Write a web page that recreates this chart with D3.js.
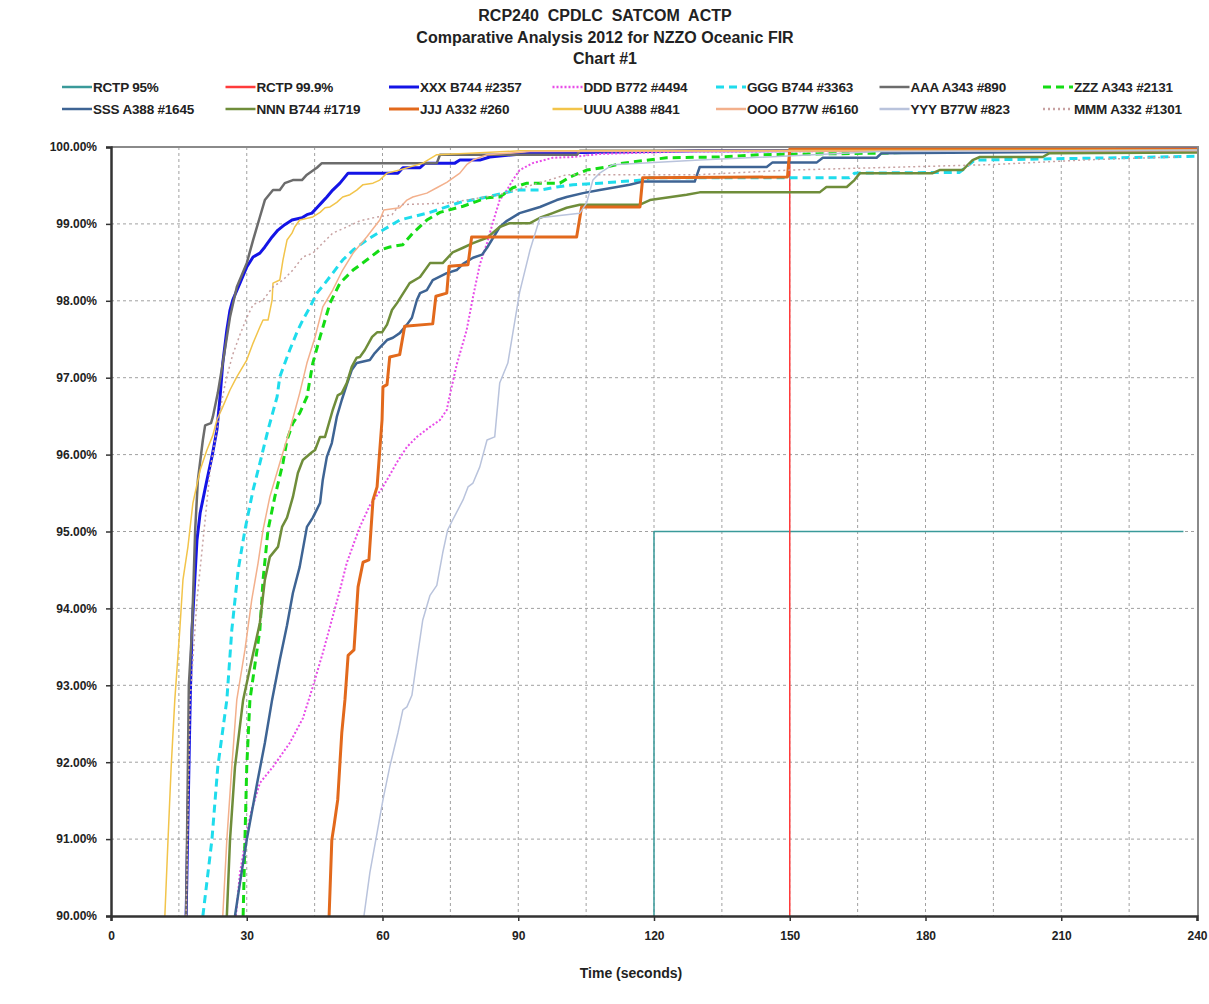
<!DOCTYPE html>
<html>
<head>
<meta charset="utf-8">
<script src="https://cdn.jsdelivr.net/npm/d3@7"></script>
<style>
  body { margin: 0; background: #fff; }
  svg text { font-family: "Liberation Sans", Arial, sans-serif; font-weight: bold; fill: #222; }
</style>
</head>
<body>
<div id="myPlot"></div>
<script>
// tick values
const xTicks = [0, 30, 60, 90, 120, 150, 180, 210, 240];
const yTicks = [90, 91, 92, 93, 94, 95, 96, 97, 98, 99, 100];

const titleLines = ["RCP240  CPDLC  SATCOM  ACTP", "Comparative Analysis 2012 for NZZO Oceanic FIR", "Chart #1"];

const seriesNames = ["RCTP 95%", "RCTP 99.9%", "XXX B744 #2357", "DDD B772 #4494", "GGG B744 #3363",
  "AAA A343 #890", "ZZZ A343 #2131", "SSS A388 #1645", "NNN B744 #1719", "JJJ A332 #260",
  "UUU A388 #841", "OOO B77W #6160", "YYY B77W #823", "MMM A332 #1301"];

// [time (s), cumulative %]
const rctp95 = [[120, 90], [120, 95], [237, 95]];
const rctp999 = [[150, 90], [150, 99.95]];

const xxx = [[16.6,90],[17.5,92.81],[17.9,93.72],[19.0,94.89],[19.7,95.24],[21.2,95.67],[22.3,95.97],[23.4,96.32],
  [24.1,96.75],[24.7,97.19],[25.6,97.62],[26.3,97.88],[26.9,98.01],[28.5,98.23],[30.0,98.44],[31.4,98.57],
  [32.9,98.62],[34.0,98.70],[35.6,98.83],[36.9,98.92],[38.4,98.99],[40.0,99.05],[42.2,99.08],[43.3,99.12],
  [44.4,99.14],[45.5,99.21],[46.6,99.28],[47.7,99.35],[49.0,99.44],[50.6,99.53],[52.4,99.66],[63.4,99.66],
  [64.5,99.73],[68.3,99.73],[69.4,99.79],[76.0,99.79],[77.1,99.83],[81.5,99.83],[83.7,99.87],[92.6,99.92],
  [130,99.95],[240,99.97]];

const ddd = [[27.6,90],[28.5,90.56],[30.0,91.08],[31.1,91.38],[32.9,91.73],[35.8,91.94],[39.5,92.25],[42.4,92.57],
  [44.6,92.98],[46.8,93.42],[48.8,93.85],[50.6,94.24],[52.1,94.59],[53.5,94.82],[55.0,95.06],[57.2,95.34],
  [60.1,95.58],[63.2,95.90],[65.4,96.10],[67.6,96.23],[70.5,96.36],[72.7,96.45],[74.2,96.58],[74.9,96.78],
  [76.4,97.17],[78.6,97.62],[80.0,98.05],[81.5,98.47],[83.1,98.75],[84.4,99.02],[85.9,99.31],[87.5,99.44],
  [88.8,99.57],[90.3,99.70],[93.2,99.79],[97.6,99.86],[102.1,99.87],[108.0,99.91],[125.7,99.94],[240,99.96]];

const ggg = [[20.3,90],[22.3,90.99],[23.6,91.94],[25.6,92.81],[26.7,93.72],[28.1,94.50],[29.6,95.02],[31.4,95.54],
  [32.9,95.89],[34.7,96.32],[36.7,96.75],[37.3,97.01],[39.5,97.36],[41.3,97.62],[42.4,97.75],[44.0,97.92],
  [45.5,98.10],[47.3,98.23],[49.0,98.36],[51.2,98.53],[53.5,98.66],[56.5,98.79],[60.1,98.92],[63.8,99.05],
  [70.5,99.15],[77.1,99.28],[83.1,99.35],[89.7,99.44],[94.8,99.44],[98.5,99.48],[102.1,99.51],[108.0,99.53],
  [117.5,99.57],[119.1,99.60],[163.2,99.60],[164.3,99.66],[187.5,99.67],[190.9,99.83],[222.2,99.86],[240,99.88]];

const aaa = [[16.6,90],[17.2,93],[17.9,93.72],[18.6,95.02],[19.2,95.67],[20.3,96.19],[20.8,96.38],[22.1,96.41],
  [22.5,96.49],[23.6,96.8],[24.7,97.19],[26.3,97.79],[27.8,98.18],[30.0,98.49],[31.4,98.79],[32.9,99.09],
  [34.0,99.31],[35.8,99.44],[37.3,99.44],[38.4,99.53],[40.2,99.57],[42.2,99.57],[43.3,99.64],[45.5,99.73],
  [46.6,99.79],[72.0,99.79],[72.7,99.9],[103,99.9],[103.6,99.95],[130,99.95],[240,99.97]];

const zzz = [[29.2,90],[29.6,90.99],[30.0,91.94],[30.7,92.81],[32.9,93.72],[33.6,94.37],[34.7,95.02],[36.2,95.45],
  [38.0,95.89],[38.9,96.19],[40.2,96.41],[41.7,96.54],[43.3,96.75],[44.6,97.19],[46.2,97.53],[48.4,97.97],
  [50.6,98.23],[53.5,98.40],[56.5,98.53],[59.4,98.66],[61.6,98.70],[64.5,98.73],[66.7,98.88],[69.8,99.05],
  [72.7,99.15],[77.8,99.23],[83.1,99.34],[85.9,99.35],[88.8,99.47],[91.9,99.53],[99.2,99.53],[101.4,99.61],
  [105.1,99.70],[109.6,99.74],[113.1,99.79],[122.8,99.86],[134.5,99.87],[143.4,99.90],[169.9,99.92],
  [196.4,99.96],[240,99.96]];

const sss = [[27.4,90],[28.5,90.43],[30.0,90.99],[32.3,91.73],[34.0,92.25],[35.6,92.81],[37.3,93.33],[38.9,93.78],
  [40.2,94.20],[41.7,94.54],[43.3,95.06],[44.6,95.18],[46.2,95.37],[46.8,95.67],[47.7,95.97],[48.8,96.15],
  [49.9,96.49],[51.0,96.71],[52.1,96.91],[53.2,97.10],[54.3,97.19],[57.2,97.23],[58.3,97.32],[59.4,97.39],
  [61.0,97.49],[62.3,97.52],[63.8,97.58],[65.4,97.69],[66.5,97.78],[67.6,98.01],[68.3,98.10],[69.8,98.14],
  [71.1,98.27],[74.2,98.36],[76.4,98.40],[77.8,98.48],[80.0,98.56],[82.0,98.60],[83.1,98.69],[85.9,98.96],
  [87.5,99.04],[90.3,99.14],[92.6,99.18],[94.8,99.22],[98.5,99.31],[100.7,99.35],[104.3,99.40],[108.0,99.44],
  [111.8,99.48],[114.6,99.51],[117.5,99.55],[129.0,99.55],[130.1,99.74],[144.9,99.74],[146.2,99.80],
  [156.0,99.80],[157.3,99.86],[169.2,99.86],[170.3,99.92],[240,99.95]];

const nnn = [[25.6,90],[26.3,90.99],[27.4,91.94],[29.2,92.81],[31.1,93.33],[32.9,93.81],[34.0,94.37],[35.1,94.67],
  [36.9,94.80],[37.8,95.06],[38.9,95.18],[40.2,95.45],[41.3,95.76],[42.4,95.93],[44.4,96.03],[45.1,96.06],
  [46.2,96.23],[47.3,96.23],[49.0,96.58],[50.1,96.77],[51.0,96.80],[52.1,96.93],[53.2,97.14],[54.3,97.26],
  [55.0,97.27],[56.1,97.36],[57.7,97.53],[58.8,97.59],[59.9,97.59],[61.0,97.69],[62.1,97.88],[63.2,97.97],
  [66.0,98.23],[68.3,98.31],[70.5,98.49],[73.3,98.49],[75.5,98.63],[77.8,98.69],[80.0,98.75],[83.1,98.82],
  [85.9,98.96],[88.1,99.01],[92.6,99.01],[94.8,99.08],[97.6,99.14],[100.7,99.21],[103.6,99.25],[116.9,99.25],
  [119.1,99.31],[127.2,99.38],[130.1,99.41],[156.6,99.41],[158.1,99.48],[162.6,99.48],[164.3,99.57],
  [165.5,99.66],[181.6,99.66],[183.1,99.70],[188.2,99.70],[190.4,99.83],[192.0,99.87],[205.9,99.87],
  [207.4,99.92],[240,99.93]];

const jjj = [[48.2,90],[48.8,90.99],[49.3,91.18],[50.1,91.51],[51.0,92.38],[51.7,92.81],[52.4,93.39],[53.7,93.46],
  [54.6,94.28],[55.7,94.60],[57.0,94.63],[57.9,95.41],[58.8,95.58],[59.4,96.06],[59.9,96.45],[60.1,96.88],
  [61.0,96.91],[61.6,97.27],[63.8,97.30],[64.9,97.67],[71.1,97.70],[71.8,98.06],[74.2,98.10],[74.7,98.45],
  [78.9,98.47],[79.7,98.83],[102.9,98.83],[104.0,99.22],[116.9,99.22],[117.5,99.60],[149.5,99.61],
  [150.0,99.97],[240,99.97]];

const uuu = [[11.9,90],[12.6,90.99],[13.3,91.94],[14.1,92.81],[15.2,93.72],[15.9,94.37],[17.0,94.80],[18.1,95.37],
  [19.7,95.80],[21.2,96.06],[22.5,96.25],[23.4,96.45],[24.7,96.62],[26.3,96.84],[27.8,97.01],[30.0,97.23],
  [31.4,97.45],[32.9,97.66],[33.6,97.75],[34.7,97.75],[35.6,98.01],[35.8,98.23],[37.3,98.27],[38.0,98.53],
  [38.9,98.79],[40.0,98.88],[40.6,98.96],[41.7,99.05],[44.6,99.09],[46.2,99.15],[47.3,99.21],[48.4,99.22],
  [49.9,99.28],[51.2,99.35],[52.8,99.38],[54.3,99.44],[55.7,99.51],[57.9,99.53],[59.4,99.57],[61.0,99.66],
  [63.8,99.70],[68.9,99.79],[72.0,99.90],[79.3,99.92],[90.3,99.95],[240,99.96]];

const ooo = [[24.7,90],[25.6,90.99],[26.7,91.94],[27.8,92.81],[29.6,93.46],[31.1,94.11],[32.5,94.59],[33.6,95.02],
  [35.1,95.45],[37.3,95.89],[39.5,96.32],[41.7,96.80],[43.3,97.19],[45.1,97.53],[46.8,97.92],[49.0,98.14],
  [51.2,98.40],[53.5,98.62],[56.5,98.83],[59.4,99.05],[60.3,99.18],[63.8,99.21],[65.4,99.31],[66.7,99.35],
  [69.8,99.40],[72.0,99.47],[74.2,99.54],[77.1,99.66],[78.6,99.77],[80.0,99.83],[83.1,99.90],[92.6,99.94],
  [240,99.95]];

const yyy = [[55.9,90],[57.2,90.56],[58.8,91.08],[60.1,91.51],[61.6,91.94],[63.4,92.38],[64.5,92.68],[65.4,92.72],
  [66.5,92.87],[67.6,93.33],[68.9,93.85],[70.5,94.17],[72.0,94.30],[73.3,94.72],[74.4,95.02],[75.5,95.15],
  [77.8,95.41],[78.9,95.58],[80.0,95.63],[81.5,95.84],[83.1,96.19],[84.8,96.23],[85.9,96.93],[87.7,97.19],
  [88.8,97.58],[90.3,98.11],[92.6,98.66],[94.8,99.08],[103.6,99.14],[105.1,99.27],[106.5,99.57],[108.0,99.66],
  [110.9,99.77],[130.1,99.83],[169.9,99.94],[240,99.96]];

const mmm = [[16.6,90],[17.5,92.81],[19.0,94.11],[20.8,95.15],[21.9,95.80],[23.0,96.19],[24.1,96.58],[25.4,96.97],
  [26.9,97.30],[28.5,97.56],[30.0,97.78],[31.4,97.95],[33.6,98.01],[35.8,98.18],[38.0,98.27],[40.2,98.40],
  [42.4,98.57],[44.6,98.62],[46.8,98.75],[49.0,98.88],[52.1,98.96],[55.0,99.04],[58.8,99.09],[62.1,99.12],
  [63.8,99.25],[74.2,99.27],[85.9,99.38],[100.7,99.64],[130,99.64],[150,99.70],[194,99.77],[218.5,99.84],
  [236,99.87]];

const seriesData = [rctp95, rctp999, xxx, ddd, ggg, aaa, zzz, sss, nnn, jjj, uuu, ooo, yyy, mmm];

// line look per series
const seriesColors = ["#3a9a9a", "#ff3b3b", "#1414e6", "#e84ce8", "#1fdcec", "#6c6c6c", "#14dc14",
  "#3e6494", "#6f8d3a", "#e2691c", "#f2c44a", "#f3b08c", "#b9c3dc", "#c8a2a2"];
const seriesWidths = [1.5, 1.5, 3, 2, 3, 2.5, 3, 2.5, 2.5, 3, 1.5, 1.5, 1.5, 1.5];
const seriesDash = [null, null, null, "2,2", "8,5", null, "8,5", null, null, null, null, null, null, "2,3"];

const W = 1209, H = 1004;
const plotLeft = 111, plotRight = 1198, plotTop = 147, plotBottom = 916;

const svg = d3.select("#myPlot").append("svg")
  .attr("width", W).attr("height", H);

// titles
svg.selectAll(".title")
  .data(titleLines).enter()
  .append("text")
  .attr("x", 605)
  .attr("y", (d, i) => 21 + i * 21.5)
  .attr("text-anchor", "middle")
  .style("font-size", "16px")
  .style("white-space", "pre")
  .text(d => d);

// legend, 7 columns x 2 rows
const legend = svg.append("g");
seriesNames.forEach((name, i) => {
  const col = i % 7, row = Math.floor(i / 7);
  const lx = 62 + col * 163.5, ly = 87 + row * 22;
  legend.append("line")
    .attr("x1", lx).attr("x2", lx + 30)
    .attr("y1", ly).attr("y2", ly)
    .attr("stroke", seriesColors[i])
    .attr("stroke-width", Math.max(2.5, seriesWidths[i]))
    .attr("stroke-dasharray", seriesDash[i]);
  legend.append("text")
    .attr("x", lx + 31).attr("y", ly + 5)
    .style("font-size", "13.5px")
    .style("letter-spacing", "-0.2px")
    .text(name);
});

const x = d3.scaleLinear().domain([0, 240]).range([plotLeft, plotRight - 1]);
const y = d3.scaleLinear().domain([90, 100]).range([plotBottom, plotTop]);

// grid
const grid = svg.append("g")
  .attr("stroke", "#a0a0a0")
  .attr("stroke-width", 1)
  .attr("stroke-dasharray", "3,3");
grid.selectAll(".vg")
  .data(d3.range(15, 240, 15)).enter()
  .append("line")
  .attr("x1", d => x(d)).attr("x2", d => x(d))
  .attr("y1", plotTop).attr("y2", plotBottom);
grid.selectAll(".hg")
  .data(yTicks.slice(1, -1)).enter()
  .append("line")
  .attr("x1", plotLeft).attr("x2", plotRight)
  .attr("y1", d => y(d)).attr("y2", d => y(d));

// plot frame (top and right)
svg.append("path")
  .attr("d", `M${plotLeft},${plotTop}H${plotRight}V${plotBottom}`)
  .attr("fill", "none")
  .attr("stroke", "#8a8a8a")
  .attr("stroke-width", 2);

// series lines
svg.append("clipPath").attr("id", "clip")
  .append("rect").attr("x", plotLeft).attr("y", plotTop - 2)
  .attr("width", plotRight - plotLeft).attr("height", plotBottom - plotTop + 2);

const line = d3.line().x(d => x(d[0])).y(d => y(d[1]));
const lines = svg.append("g").attr("clip-path", "url(#clip)");
seriesData.forEach((data, i) => {
  lines.append("path")
    .datum(data)
    .attr("d", line)
    .attr("fill", "none")
    .attr("stroke", seriesColors[i])
    .attr("stroke-width", seriesWidths[i])
    .attr("stroke-dasharray", seriesDash[i])
    .attr("stroke-linejoin", "round");
});

// axes
const xAxis = svg.append("g")
  .attr("transform", "translate(0," + plotBottom + ")")
  .call(d3.axisBottom(x).tickValues(xTicks).tickSize(5).tickPadding(10).tickFormat(d3.format("d")));
const yAxis = svg.append("g")
  .attr("transform", "translate(" + plotLeft + ",0)")
  .call(d3.axisLeft(y).tickValues(yTicks).tickSize(5).tickPadding(9).tickFormat(d => d.toFixed(2) + "%"));

[xAxis, yAxis].forEach(a => {
  a.select(".domain").attr("stroke", "#333").attr("stroke-width", 2.5);
  a.selectAll(".tick line").attr("stroke", "#333").attr("stroke-width", 1.5);
  a.selectAll(".tick text").style("font-size", "12px").attr("fill", "#222");
});

svg.append("text")
  .attr("x", 631).attr("y", 978)
  .attr("text-anchor", "middle")
  .style("font-size", "14px")
  .text("Time (seconds)");
</script>
</body>
</html>
